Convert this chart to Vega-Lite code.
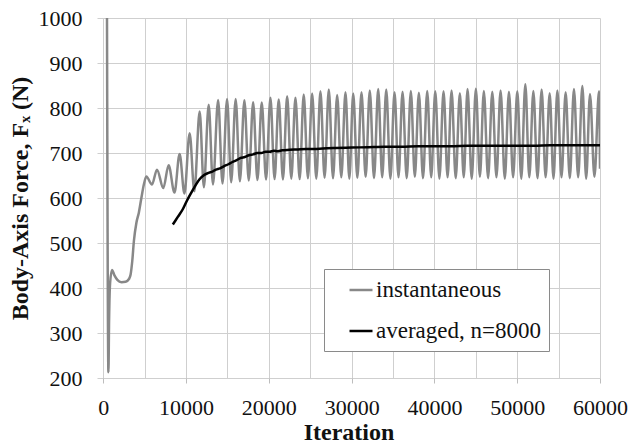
{
  "$schema": "https://vega.github.io/schema/vega-lite/v6.json",
  "width": 503,
  "height": 360,
  "autosize": {"type": "none"},
  "padding": {"left": 97, "top": 18, "right": 42, "bottom": 65},
  "background": "white",
  "config": {
    "view": {"stroke": null},
    "font": "Liberation Serif",
    "axis": {
      "gridColor": "#cfcfcf",
      "gridWidth": 1,
      "labelFont": "Liberation Serif",
      "titleFont": "Liberation Serif",
      "labelColor": "#111111",
      "titleColor": "#111111",
      "labelFontSize": 22,
      "titleFontSize": 24,
      "titleFontWeight": "bold",
      "domain": false
    },
    "legend": {
      "labelFont": "Liberation Serif"
    }
  },
  "data": {
    "values": [
      {"iteration": 420, "force": 1200, "series": "instantaneous"},
      {"iteration": 620, "force": 213, "series": "instantaneous"},
      {"iteration": 700, "force": 330, "series": "instantaneous"},
      {"iteration": 820, "force": 410, "series": "instantaneous"},
      {"iteration": 1050, "force": 440, "series": "instantaneous"},
      {"iteration": 1350, "force": 428, "series": "instantaneous"},
      {"iteration": 1700, "force": 418, "series": "instantaneous"},
      {"iteration": 2200, "force": 413, "series": "instantaneous"},
      {"iteration": 2700, "force": 414, "series": "instantaneous"},
      {"iteration": 3100, "force": 420, "series": "instantaneous"},
      {"iteration": 3300, "force": 430, "series": "instantaneous"},
      {"iteration": 3500, "force": 460, "series": "instantaneous"},
      {"iteration": 3700, "force": 505, "series": "instantaneous"},
      {"iteration": 4000, "force": 545, "series": "instantaneous"},
      {"iteration": 4300, "force": 568, "series": "instantaneous"},
      {"iteration": 4600, "force": 600, "series": "instantaneous"},
      {"iteration": 4900, "force": 630, "series": "instantaneous"},
      {"iteration": 5200, "force": 648, "series": "instantaneous"},
      {"iteration": 5880, "force": 630, "series": "instantaneous"},
      {"iteration": 6490, "force": 663, "series": "instantaneous"},
      {"iteration": 7250, "force": 622, "series": "instantaneous"},
      {"iteration": 7890, "force": 673, "series": "instantaneous"},
      {"iteration": 8600, "force": 612, "series": "instantaneous"},
      {"iteration": 9220, "force": 698, "series": "instantaneous"},
      {"iteration": 9800, "force": 610, "series": "instantaneous"},
      {"iteration": 10430, "force": 744, "series": "instantaneous"},
      {"iteration": 11000, "force": 615, "series": "instantaneous"},
      {"iteration": 11640, "force": 792, "series": "instantaneous"},
      {"iteration": 12150, "force": 624, "series": "instantaneous"},
      {"iteration": 12730, "force": 807, "series": "instantaneous"},
      {"iteration": 13250, "force": 630, "series": "instantaneous"},
      {"iteration": 13870, "force": 818, "series": "instantaneous"},
      {"iteration": 14400, "force": 632, "series": "instantaneous"},
      {"iteration": 14950, "force": 820, "series": "instantaneous"},
      {"iteration": 15450, "force": 635, "series": "instantaneous"},
      {"iteration": 15990, "force": 820, "series": "instantaneous"},
      {"iteration": 16500, "force": 637, "series": "instantaneous"},
      {"iteration": 17045, "force": 817, "series": "instantaneous"},
      {"iteration": 17570, "force": 639, "series": "instantaneous"},
      {"iteration": 18100, "force": 813, "series": "instantaneous"},
      {"iteration": 18620, "force": 640, "series": "instantaneous"},
      {"iteration": 19140, "force": 812, "series": "instantaneous"},
      {"iteration": 19660, "force": 641, "series": "instantaneous"},
      {"iteration": 20190, "force": 823, "series": "instantaneous"},
      {"iteration": 20690, "force": 642, "series": "instantaneous"},
      {"iteration": 21190, "force": 819, "series": "instantaneous"},
      {"iteration": 21700, "force": 641, "series": "instantaneous"},
      {"iteration": 22210, "force": 826, "series": "instantaneous"},
      {"iteration": 22710, "force": 643, "series": "instantaneous"},
      {"iteration": 23210, "force": 823, "series": "instantaneous"},
      {"iteration": 23720, "force": 642, "series": "instantaneous"},
      {"iteration": 24210, "force": 830, "series": "instantaneous"},
      {"iteration": 24720, "force": 644, "series": "instantaneous"},
      {"iteration": 25230, "force": 832, "series": "instantaneous"},
      {"iteration": 25730, "force": 643, "series": "instantaneous"},
      {"iteration": 26230, "force": 837, "series": "instantaneous"},
      {"iteration": 26730, "force": 645, "series": "instantaneous"},
      {"iteration": 27240, "force": 841, "series": "instantaneous"},
      {"iteration": 27750, "force": 644, "series": "instantaneous"},
      {"iteration": 28250, "force": 829, "series": "instantaneous"},
      {"iteration": 28750, "force": 646, "series": "instantaneous"},
      {"iteration": 29255, "force": 835, "series": "instantaneous"},
      {"iteration": 29720, "force": 643, "series": "instantaneous"},
      {"iteration": 30190, "force": 832, "series": "instantaneous"},
      {"iteration": 30690, "force": 645, "series": "instantaneous"},
      {"iteration": 31190, "force": 835, "series": "instantaneous"},
      {"iteration": 31690, "force": 647, "series": "instantaneous"},
      {"iteration": 32190, "force": 839, "series": "instantaneous"},
      {"iteration": 32700, "force": 644, "series": "instantaneous"},
      {"iteration": 33210, "force": 842, "series": "instantaneous"},
      {"iteration": 33690, "force": 646, "series": "instantaneous"},
      {"iteration": 34180, "force": 841, "series": "instantaneous"},
      {"iteration": 34680, "force": 643, "series": "instantaneous"},
      {"iteration": 35180, "force": 835, "series": "instantaneous"},
      {"iteration": 35660, "force": 646, "series": "instantaneous"},
      {"iteration": 36150, "force": 836, "series": "instantaneous"},
      {"iteration": 36650, "force": 644, "series": "instantaneous"},
      {"iteration": 37150, "force": 838, "series": "instantaneous"},
      {"iteration": 37630, "force": 647, "series": "instantaneous"},
      {"iteration": 38120, "force": 834, "series": "instantaneous"},
      {"iteration": 38620, "force": 644, "series": "instantaneous"},
      {"iteration": 39130, "force": 838, "series": "instantaneous"},
      {"iteration": 39610, "force": 646, "series": "instantaneous"},
      {"iteration": 40100, "force": 837, "series": "instantaneous"},
      {"iteration": 40600, "force": 643, "series": "instantaneous"},
      {"iteration": 41100, "force": 837, "series": "instantaneous"},
      {"iteration": 41590, "force": 646, "series": "instantaneous"},
      {"iteration": 42070, "force": 839, "series": "instantaneous"},
      {"iteration": 42570, "force": 644, "series": "instantaneous"},
      {"iteration": 43070, "force": 833, "series": "instantaneous"},
      {"iteration": 43540, "force": 646, "series": "instantaneous"},
      {"iteration": 44000, "force": 842, "series": "instantaneous"},
      {"iteration": 44500, "force": 643, "series": "instantaneous"},
      {"iteration": 45010, "force": 843, "series": "instantaneous"},
      {"iteration": 45490, "force": 647, "series": "instantaneous"},
      {"iteration": 45970, "force": 838, "series": "instantaneous"},
      {"iteration": 46480, "force": 644, "series": "instantaneous"},
      {"iteration": 46990, "force": 836, "series": "instantaneous"},
      {"iteration": 47490, "force": 646, "series": "instantaneous"},
      {"iteration": 47990, "force": 839, "series": "instantaneous"},
      {"iteration": 48500, "force": 643, "series": "instantaneous"},
      {"iteration": 49000, "force": 836, "series": "instantaneous"},
      {"iteration": 49500, "force": 646, "series": "instantaneous"},
      {"iteration": 50010, "force": 837, "series": "instantaneous"},
      {"iteration": 50490, "force": 643, "series": "instantaneous"},
      {"iteration": 50980, "force": 853, "series": "instantaneous"},
      {"iteration": 51460, "force": 646, "series": "instantaneous"},
      {"iteration": 51950, "force": 838, "series": "instantaneous"},
      {"iteration": 52450, "force": 644, "series": "instantaneous"},
      {"iteration": 52950, "force": 841, "series": "instantaneous"},
      {"iteration": 53430, "force": 646, "series": "instantaneous"},
      {"iteration": 53920, "force": 833, "series": "instantaneous"},
      {"iteration": 54380, "force": 643, "series": "instantaneous"},
      {"iteration": 54850, "force": 839, "series": "instantaneous"},
      {"iteration": 55350, "force": 646, "series": "instantaneous"},
      {"iteration": 55850, "force": 835, "series": "instantaneous"},
      {"iteration": 56350, "force": 644, "series": "instantaneous"},
      {"iteration": 56855, "force": 842, "series": "instantaneous"},
      {"iteration": 57360, "force": 646, "series": "instantaneous"},
      {"iteration": 57870, "force": 849, "series": "instantaneous"},
      {"iteration": 58330, "force": 643, "series": "instantaneous"},
      {"iteration": 58790, "force": 831, "series": "instantaneous"},
      {"iteration": 59330, "force": 647, "series": "instantaneous"},
      {"iteration": 59880, "force": 837, "series": "instantaneous"},
      {"iteration": 60000, "force": 665, "series": "instantaneous"},
      {"iteration": 8400, "force": 541, "series": "averaged, n=8000"},
      {"iteration": 9000, "force": 558, "series": "averaged, n=8000"},
      {"iteration": 9600, "force": 575, "series": "averaged, n=8000"},
      {"iteration": 10100, "force": 594, "series": "averaged, n=8000"},
      {"iteration": 10600, "force": 611, "series": "averaged, n=8000"},
      {"iteration": 11100, "force": 627, "series": "averaged, n=8000"},
      {"iteration": 11600, "force": 641, "series": "averaged, n=8000"},
      {"iteration": 12100, "force": 650, "series": "averaged, n=8000"},
      {"iteration": 12600, "force": 655, "series": "averaged, n=8000"},
      {"iteration": 13100, "force": 658, "series": "averaged, n=8000"},
      {"iteration": 13600, "force": 663, "series": "averaged, n=8000"},
      {"iteration": 14100, "force": 666, "series": "averaged, n=8000"},
      {"iteration": 14600, "force": 671, "series": "averaged, n=8000"},
      {"iteration": 15100, "force": 675, "series": "averaged, n=8000"},
      {"iteration": 15600, "force": 680, "series": "averaged, n=8000"},
      {"iteration": 16100, "force": 684, "series": "averaged, n=8000"},
      {"iteration": 16600, "force": 689, "series": "averaged, n=8000"},
      {"iteration": 17100, "force": 691, "series": "averaged, n=8000"},
      {"iteration": 17600, "force": 695, "series": "averaged, n=8000"},
      {"iteration": 18100, "force": 697, "series": "averaged, n=8000"},
      {"iteration": 18600, "force": 700, "series": "averaged, n=8000"},
      {"iteration": 19100, "force": 700, "series": "averaged, n=8000"},
      {"iteration": 19600, "force": 703, "series": "averaged, n=8000"},
      {"iteration": 20100, "force": 703, "series": "averaged, n=8000"},
      {"iteration": 20600, "force": 705, "series": "averaged, n=8000"},
      {"iteration": 21100, "force": 704, "series": "averaged, n=8000"},
      {"iteration": 21600, "force": 706, "series": "averaged, n=8000"},
      {"iteration": 22500, "force": 707, "series": "averaged, n=8000"},
      {"iteration": 23500, "force": 708, "series": "averaged, n=8000"},
      {"iteration": 24500, "force": 709, "series": "averaged, n=8000"},
      {"iteration": 25500, "force": 709, "series": "averaged, n=8000"},
      {"iteration": 26500, "force": 710, "series": "averaged, n=8000"},
      {"iteration": 28000, "force": 711, "series": "averaged, n=8000"},
      {"iteration": 30000, "force": 712, "series": "averaged, n=8000"},
      {"iteration": 32000, "force": 713, "series": "averaged, n=8000"},
      {"iteration": 34000, "force": 714, "series": "averaged, n=8000"},
      {"iteration": 36000, "force": 714, "series": "averaged, n=8000"},
      {"iteration": 38000, "force": 715, "series": "averaged, n=8000"},
      {"iteration": 40000, "force": 715, "series": "averaged, n=8000"},
      {"iteration": 42000, "force": 715, "series": "averaged, n=8000"},
      {"iteration": 44000, "force": 716, "series": "averaged, n=8000"},
      {"iteration": 46000, "force": 716, "series": "averaged, n=8000"},
      {"iteration": 48000, "force": 716, "series": "averaged, n=8000"},
      {"iteration": 50000, "force": 716, "series": "averaged, n=8000"},
      {"iteration": 52000, "force": 716, "series": "averaged, n=8000"},
      {"iteration": 54000, "force": 717, "series": "averaged, n=8000"},
      {"iteration": 56000, "force": 717, "series": "averaged, n=8000"},
      {"iteration": 58000, "force": 717, "series": "averaged, n=8000"},
      {"iteration": 60000, "force": 717, "series": "averaged, n=8000"}
    ]
  },
  "encoding": {
    "x": {
      "field": "iteration",
      "type": "quantitative",
      "scale": {"domain": [-760, 60000], "nice": false, "zero": false},
      "axis": {
        "title": "Iteration",
        "values": [0, 5000, 10000, 15000, 20000, 25000, 30000, 35000, 40000, 45000, 50000, 55000, 60000],
        "format": "d",
        "labelExpr": "datum.value % 10000 === 0 ? datum.label : ''",
        "labelFont": "Liberation Serif",
        "titleFont": "Liberation Serif",
        "tickOpacity": {"condition": {"test": "datum.value % 10000 === 0", "value": 1}, "value": 0},
        "tickSize": 5,
        "tickColor": "#bdbdbd",
        "labelPadding": 14,
        "titlePadding": 2,
        "labelFlush": false,
        "labelOverlap": false
      }
    },
    "y": {
      "field": "force",
      "type": "quantitative",
      "scale": {"domain": [200, 1000], "nice": false, "zero": false},
      "axis": {
        "title": "Body-Axis Force, Fₓ (N)",
        "values": [200, 300, 400, 500, 600, 700, 800, 900, 1000],
        "format": "d",
        "labelFont": "Liberation Serif",
        "titleFont": "Liberation Serif",
        "ticks": false,
        "labelPadding": 15,
        "titlePadding": 6,
        "labelFlush": false,
        "labelOverlap": false
      }
    },
    "color": {
      "field": "series",
      "type": "nominal",
      "scale": {"domain": ["instantaneous", "averaged, n=8000"], "range": ["#888888", "#000000"]},
      "legend": {
        "title": null,
        "orient": "none",
        "legendX": 227,
        "legendY": 251,
        "symbolType": "stroke",
        "symbolSize": 529,
        "symbolStrokeWidth": 2.5,
        "labelFont": "Liberation Serif",
        "labelFontSize": 23,
        "labelLimit": 400,
        "labelColor": "#111111",
        "labelOffset": 2,
        "padding": 8,
        "symbolOffset": 16,
        "rowPadding": 16,
        "strokeColor": "#8a8a8a",
        "fillColor": "white",
        "cornerRadius": 0
      }
    }
  },
  "layer": [
    {
      "transform": [{"filter": "datum.series === 'instantaneous'"}],
      "mark": {"type": "line", "strokeWidth": 2.5, "interpolate": "monotone", "clip": true}
    },
    {
      "transform": [{"filter": "datum.series !== 'instantaneous'"}],
      "mark": {"type": "line", "strokeWidth": 2.5, "interpolate": "monotone", "clip": true}
    }
  ]
}
